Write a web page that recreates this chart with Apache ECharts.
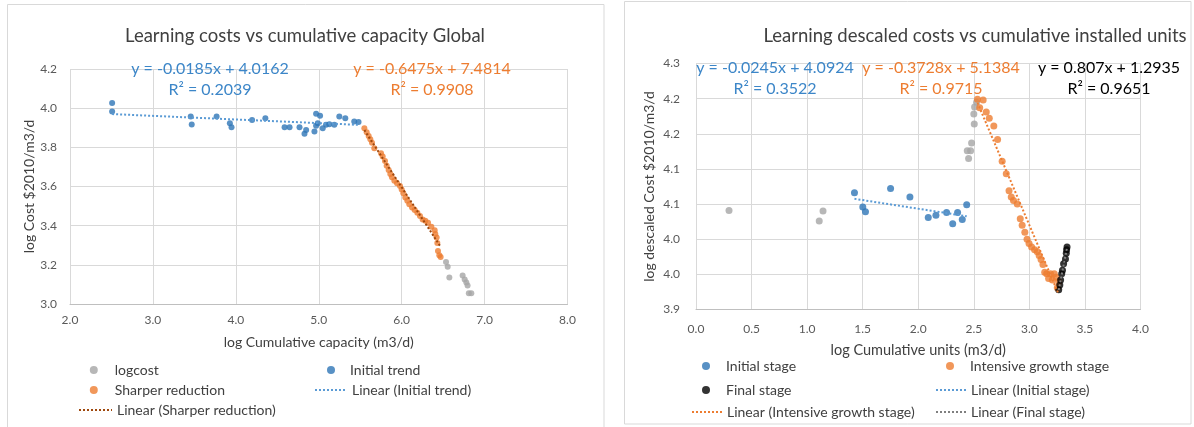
<!DOCTYPE html>
<html>
<head>
<meta charset="utf-8">
<title>Learning costs</title>
<script src="https://cdn.jsdelivr.net/npm/echarts@6/dist/echarts.min.js"></script>
<style>
  html, body { margin: 0; padding: 0; background: #fff; }
  #chart { width: 1194px; height: 427px; }
</style>
</head>
<body>
<div id="chart"></div>
<script>
// --- left chart: log cost vs log cumulative capacity ---
const capLogcost = [
  [6.535, 3.215], [6.555, 3.19], [6.575, 3.135], [6.735, 3.145], [6.76, 3.125],
  [6.78, 3.11], [6.795, 3.095], [6.81, 3.055], [6.84, 3.055]
]
const capInitial = [
  [2.508, 4.026], [2.508, 3.983], [3.456, 3.957], [3.468, 3.917], [3.768, 3.957],
  [3.928, 3.923], [3.948, 3.903], [4.196, 3.94], [4.356, 3.949], [4.588, 3.903],
  [4.648, 3.903], [4.768, 3.903], [4.828, 3.869], [4.848, 3.889], [4.948, 3.881],
  [4.968, 3.971], [5.016, 3.961], [4.988, 3.923], [4.968, 3.91], [5.048, 3.898],
  [5.088, 3.915], [5.128, 3.918], [5.188, 3.915], [5.248, 3.957], [5.32, 3.949],
  [5.428, 3.932], [5.48, 3.929]
]
const capSharper = [
  [5.55, 3.898], [5.578, 3.877], [5.602, 3.858], [5.622, 3.841], [5.642, 3.824],
  [5.67, 3.795], [5.751, 3.77], [5.771, 3.753], [5.799, 3.73], [5.819, 3.706],
  [5.843, 3.684], [5.863, 3.664], [5.883, 3.647], [5.912, 3.63], [5.944, 3.616],
  [5.98, 3.602], [6.0, 3.585], [6.02, 3.565], [6.044, 3.544], [6.068, 3.527],
  [6.092, 3.509], [6.125, 3.493], [6.157, 3.48], [6.189, 3.466], [6.221, 3.449],
  [6.253, 3.432], [6.285, 3.425], [6.318, 3.415], [6.358, 3.394], [6.398, 3.377],
  [6.406, 3.357], [6.422, 3.34], [6.43, 3.312], [6.438, 3.271], [6.454, 3.249],
  [6.47, 3.24]
]
// trendline [slope, intercept, R²]
const capInitialFit = [-0.0185, 4.0162, 0.2039]
const capSharperFit = [-0.6475, 7.4814, 0.9908]

// --- right chart: descaled cost vs log cumulative units ---
const unitsLogcost = [
  [0.297, 4.041], [1.109, 4.026], [1.143, 4.04], [2.441, 4.126], [2.453, 4.115],
  [2.471, 4.126], [2.48, 4.137], [2.504, 4.164], [2.5, 4.178], [2.507, 4.188],
  [2.525, 4.195]
]
const unitsInitial = [
  [1.426, 4.066], [1.501, 4.046], [1.525, 4.039], [1.751, 4.072], [1.925, 4.06],
  [2.09, 4.031], [2.159, 4.034], [2.255, 4.038], [2.31, 4.022], [2.354, 4.038],
  [2.396, 4.028], [2.436, 4.049]
]
const unitsIntensive = [
  [2.533, 4.199], [2.553, 4.187], [2.584, 4.198], [2.612, 4.181], [2.639, 4.172],
  [2.68, 4.161], [2.714, 4.142], [2.755, 4.111], [2.792, 4.093], [2.817, 4.069],
  [2.837, 4.06], [2.857, 4.055], [2.891, 4.05], [2.918, 4.029], [2.935, 4.02],
  [2.959, 4.01], [2.979, 4.0], [2.997, 3.994], [3.02, 3.989], [3.047, 3.985],
  [3.071, 3.982], [3.088, 3.977], [3.105, 3.971], [3.122, 3.964], [3.138, 3.953],
  [3.156, 3.951], [3.173, 3.944], [3.19, 3.951], [3.207, 3.942], [3.224, 3.951],
  [3.24, 3.946], [3.251, 3.931], [3.264, 3.939]
]
const unitsFinal = [
  [3.264, 3.928], [3.274, 3.935], [3.281, 3.942], [3.291, 3.951], [3.298, 3.956],
  [3.308, 3.965], [3.325, 3.972], [3.332, 3.98], [3.335, 3.985], [3.339, 3.989]
]
const unitsInitialFit = [-0.0245, 4.0924, 0.3522]
const unitsIntensiveFit = [-0.3728, 5.1384, 0.9715]
const unitsFinalFit = [0.807, 1.2935, 0.9651]

// y tick labels of the right chart (Excel rounds the 0.05 steps to one decimal)
const unitsYLabels = ['3.9', '4.0', '4.0', '4.1', '4.1', '4.2', '4.2', '4.3']

const FONT = 'Lato'
const BLUE = '#2E75B6'
const LIGHTBLUE = '#5B9BD5'
const ORANGE = '#ED7D31'
const GREY = '#A5A5A5'

// two-point line over the x range of the series
function fitLine (points, fit) {
  const xs = points.map(p => p[0])
  const x0 = Math.min(...xs)
  const x1 = Math.max(...xs)
  return [[x0, fit[0] * x0 + fit[1]], [x1, fit[0] * x1 + fit[1]]]
}
function eqText (fit) {
  const sign = fit[1] < 0 ? ' - ' : ' + '
  return 'y = ' + fit[0] + 'x' + sign + Math.abs(fit[1]) + '\nR² = ' + fit[2].toFixed(4)
}

function scatter (name, data, color, axis, size) {
  return {
    name, type: 'scatter', data, xAxisIndex: axis, yAxisIndex: axis,
    symbolSize: size, itemStyle: { color }, z: 2, silent: true
  }
}
function trend (name, data, color, axis) {
  return {
    name, type: 'line', data, xAxisIndex: axis, yAxisIndex: axis,
    symbol: 'none', lineStyle: { color, width: 2, type: [2, 2] }, z: 3, silent: true
  }
}
function legendItem (name, left, top, isLine, width, pad) {
  const item = {
    data: [name], left, top, padding: 0, orient: 'horizontal',
    itemWidth: isLine ? width : 8, itemHeight: isLine ? 4 : 8,
    selectedMode: false,
    textStyle: { fontFamily: FONT, fontSize: 14, color: '#404040', padding: [0, 0, 0, pad] }
  }
  // hide the marker that echarts puts in the middle of a line icon
  if (isLine) item.itemStyle = { opacity: 0 }
  return item
}
function eqLabel (x, y, fit, color) {
  return {
    type: 'text', x, y, z: 100,
    style: {
      text: eqText(fit), fill: color, font: '16px ' + FONT,
      textAlign: 'center', textVerticalAlign: 'top', lineHeight: 21
    }
  }
}

const axisText = { fontFamily: FONT, fontSize: 12, color: '#595959' }
const nameText = { fontFamily: FONT, fontSize: 14, color: '#404040' }
const gridLine = { show: true, lineStyle: { color: '#D9D9D9', width: 1 } }

const chart = echarts.init(document.getElementById('chart'))
chart.setOption({
  animation: false,
  backgroundColor: '#fff',
  grid: [
    { left: 70, right: 1194 - 567.5, top: 69, bottom: 427 - 304 },
    { left: 696, right: 1194 - 1140.5, top: 63.5, bottom: 427 - 309.5 }
  ],
  xAxis: [
    {
      gridIndex: 0, type: 'value', min: 2, max: 8, interval: 1,
      name: 'log Cumulative capacity (m3/d)', nameLocation: 'middle', nameGap: 31,
      nameTextStyle: nameText,
      axisLine: { lineStyle: { color: '#BFBFBF' } }, axisTick: { show: false },
      axisLabel: Object.assign({ margin: 10, formatter: v => v.toFixed(1) }, axisText),
      splitLine: gridLine
    },
    {
      gridIndex: 1, type: 'value', min: 0, max: 4, interval: 0.5,
      name: 'log Cumulative units (m3/d)', nameLocation: 'middle', nameGap: 33,
      nameTextStyle: Object.assign({}, nameText, { fontSize: 14.5 }),
      axisLine: { lineStyle: { color: '#BFBFBF' } }, axisTick: { show: false },
      axisLabel: Object.assign({ margin: 14, formatter: v => v.toFixed(1) }, axisText),
      splitLine: gridLine
    }
  ],
  yAxis: [
    {
      gridIndex: 0, type: 'value', min: 3.0, max: 4.2, interval: 0.2,
      name: 'log Cost $2010/m3/d', nameLocation: 'middle', nameGap: 34,
      nameTextStyle: nameText,
      axisLine: { show: false }, axisTick: { show: false },
      axisLabel: Object.assign({ margin: 13, formatter: v => v.toFixed(1) }, axisText),
      splitLine: gridLine
    },
    {
      gridIndex: 1, type: 'value', min: 3.9, max: 4.25, interval: 0.05,
      name: 'log descaled Cost $2010/m3/d', nameLocation: 'middle', nameGap: 40,
      nameTextStyle: nameText,
      axisLine: { show: false }, axisTick: { show: false },
      axisLabel: Object.assign({ margin: 16, formatter: (v, i) => unitsYLabels[i] }, axisText),
      splitLine: gridLine
    }
  ],
  legend: [
    legendItem('logcost', 89.8, 363, false, 8, 12),
    legendItem('Initial trend', 327, 363, false, 8, 10),
    legendItem('Sharper reduction', 89.8, 383, false, 8, 12),
    legendItem('Linear (Initial trend)', 314, 383, true, 32, 0),
    legendItem('Linear (Sharper reduction)', 78, 403, true, 33, 0),
    legendItem('Initial stage', 702, 359, false, 8, 11),
    legendItem('Intensive growth stage', 946, 359, false, 8, 11),
    legendItem('Final stage', 702, 383, false, 8, 11),
    legendItem('Linear (Initial stage)', 935, 383, true, 30, 0),
    legendItem('Linear (Intensive growth stage)', 691, 405, true, 30, 0),
    legendItem('Linear (Final stage)', 935, 405, true, 30, 0)
  ],
  series: [
    scatter('logcost', capLogcost, GREY, 0, 6),
    scatter('Initial trend', capInitial, BLUE, 0, 6),
    scatter('Sharper reduction', capSharper, ORANGE, 0, 6),
    trend('Linear (Initial trend)', fitLine(capInitial, capInitialFit), LIGHTBLUE, 0),
    trend('Linear (Sharper reduction)', fitLine(capSharper, capSharperFit), '#9E480E', 0),
    scatter('logcost ', unitsLogcost, GREY, 1, 7),
    scatter('Initial stage', unitsInitial, BLUE, 1, 7),
    scatter('Intensive growth stage', unitsIntensive, ORANGE, 1, 7),
    scatter('Final stage', unitsFinal, '#000000', 1, 7),
    trend('Linear (Initial stage)', fitLine(unitsInitial, unitsInitialFit), LIGHTBLUE, 1),
    trend('Linear (Intensive growth stage)', fitLine(unitsIntensive, unitsIntensiveFit), ORANGE, 1),
    trend('Linear (Final stage)', fitLine(unitsFinal, unitsFinalFit), '#7F7F7F', 1)
  ],
  graphic: [
    // chart frames
    { type: 'rect', shape: { x: 7.5, y: 4.5, width: 596.5, height: 440 }, style: { fill: 'none', stroke: '#D9D9D9', lineWidth: 1 } },
    { type: 'rect', shape: { x: 624.5, y: 1.5, width: 566.5, height: 422.5 }, style: { fill: 'none', stroke: '#D9D9D9', lineWidth: 1 } },
    // titles
    { type: 'text', x: 305, y: 36, z: 100, style: { text: 'Learning costs vs cumulative capacity Global', font: '18.5px ' + FONT, fill: '#404040', textAlign: 'center', textVerticalAlign: 'middle' } },
    { type: 'text', x: 975, y: 36, z: 100, style: { text: 'Learning descaled costs vs cumulative installed units', font: '18.5px ' + FONT, fill: '#404040', textAlign: 'center', textVerticalAlign: 'middle' } },
    // trendline equations
    eqLabel(210, 58, capInitialFit, '#3C86C8'),
    eqLabel(432, 58, capSharperFit, ORANGE),
    eqLabel(775, 57, unitsInitialFit, '#3C86C8'),
    eqLabel(941, 57, unitsIntensiveFit, ORANGE),
    eqLabel(1109, 57, unitsFinalFit, '#000000')
  ]
})
</script>
</body>
</html>
